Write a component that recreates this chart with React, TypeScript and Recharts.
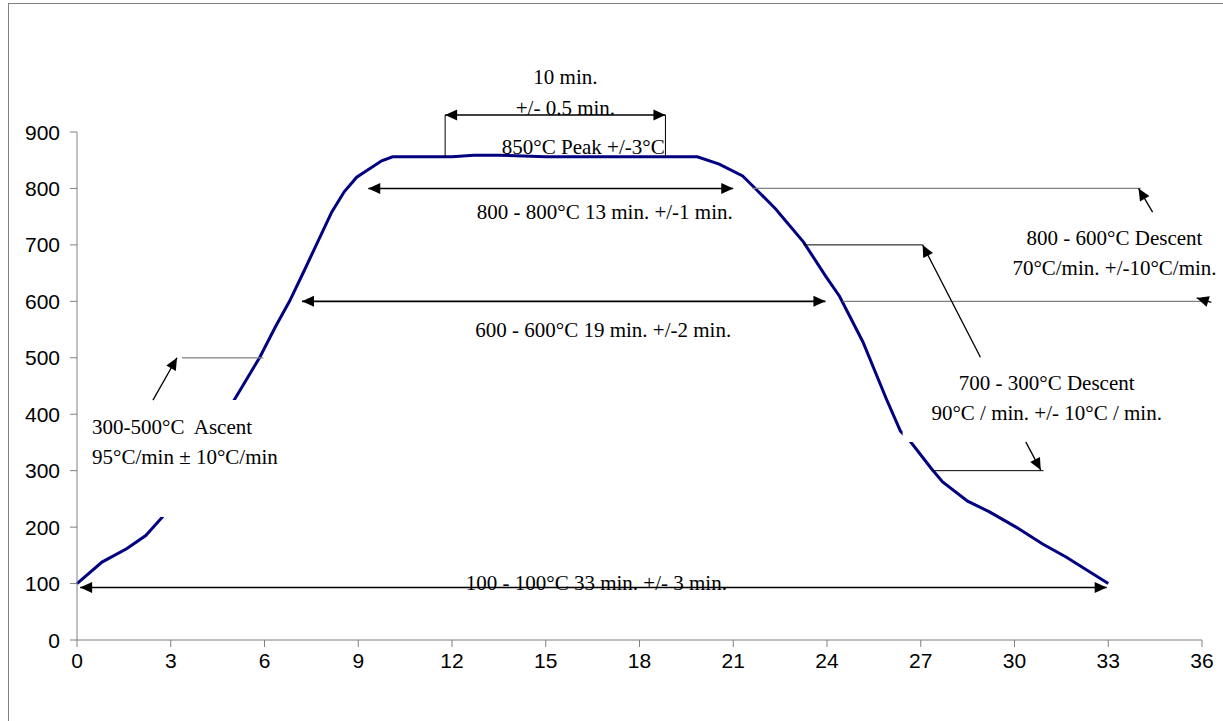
import React from 'react';
import { LineChart, Line, XAxis, YAxis, ReferenceLine, ReferenceDot, ReferenceArea } from 'recharts';

// ---- profile data (minutes, °C) ----
const times = [0, 0.8, 1.6, 2.2, 2.8, 3.5, 4.2, 5.05, 5.85, 6.35, 6.8, 7.25, 8.15, 8.55, 8.95, 9.75, 10.1, 11, 12, 12.7, 13.5, 15, 19.85, 20.55, 21.3, 21.65, 22.35, 23.25, 23.95, 24.4, 25.15, 25.9, 26.35, 26.65, 27.35, 27.7, 28.5, 29.2, 30.05, 30.9, 31.65, 33];
const temps = [100, 138, 162, 185, 222, 285, 350, 427, 501, 555, 600, 652, 758, 794, 820, 849, 856, 856, 856, 859, 859, 856, 856, 843, 822, 803, 764, 705, 645, 609, 528, 427, 370, 353, 303, 280, 246, 227, 200, 170, 147, 100];

const xTicks = [0, 3, 6, 9, 12, 15, 18, 21, 24, 27, 30, 33, 36];
const yTicks = [0, 100, 200, 300, 400, 500, 600, 700, 800, 900];

// ---- annotation geometry (data coordinates: minutes, °C) ----
// double-headed dimension arrows: [tStart, tEnd, temp]
const spanArrows = [
  [11.78, 18.83, 930],
  [9.32, 21.0, 800],
  [7.2, 23.95, 600],
  [0.1, 32.95, 93],
];
// vertical limit lines of the 10 min. window: [t, tempTop, tempBottom]
const peakLimits = [
  [11.78, 930, 855],
  [18.83, 930, 855],
];
// horizontal leader lines: [tStart, tEnd, temp]
const grayLeaders = [
  [3.36, 5.96, 500],
  [21.61, 34.04, 800],
  [24.5, 36.12, 600],
];
const blackLeaders = [
  [23.25, 27.06, 700],
  [27.38, 30.93, 300],
];
// pointer arrows: [tFrom, tempFrom, tTip, tempTip]
const pointers = [
  [2.43, 425, 3.2, 500],
  [34.42, 758, 33.97, 800],
  [36.3, 598, 35.83, 606],
  [28.91, 501, 27.06, 700],
  [30.36, 351, 30.84, 301],
];
// white text-box masks: [t1, t2, temp1, temp2]
const masks = [
  [0.35, 6.66, 218, 425],
  [26.42, 35.64, 351, 501],
];
// text labels
const labelTexts = [
  '10 min.',
  '+/- 0.5 min.',
  '850°C Peak +/-3°C',
  '800 - 800°C 13 min. +/-1 min.',
  '600 - 600°C 19 min. +/-2 min.',
  '100 - 100°C 33 min. +/- 3 min.',
  '300-500°C  Ascent',
  '95°C/min ± 10°C/min',
  '800 - 600°C Descent',
  '70°C/min. +/-10°C/min.',
  '700 - 300°C Descent',
  '90°C / min. +/- 10°C / min.',
];
const labelTimes = [15.63, 15.63, 16.2, 16.89, 16.84, 16.62, 0.48, 0.48, 33.2, 33.2, 31.03, 31.03];
const labelTemps = [998, 942, 873, 759, 549, 101, 377, 324, 713, 659, 455, 402];
const labelAnchors = ['middle', 'middle', 'middle', 'middle', 'middle', 'middle', 'start', 'start', 'middle', 'middle', 'middle', 'middle'];

const data = times.map((t, i) => ({ t, temp: temps[i] }));

const SERIF = '"Liberation Serif", "Times New Roman", serif';
const SANS = '"Liberation Sans", Arial, sans-serif';

function head(x1: number, y1: number, x2: number, y2: number, fill: string, len = 12, half = 5.5) {
  const dx = x2 - x1;
  const dy = y2 - y1;
  const d = Math.hypot(dx, dy) || 1;
  const ux = dx / d;
  const uy = dy / d;
  const bx = x2 - ux * len;
  const by = y2 - uy * len;
  const px = -uy * half;
  const py = ux * half;
  return <polygon points={`${x2},${y2} ${bx + px},${by + py} ${bx - px},${by - py}`} fill={fill} />;
}

function makeArrow(startHead: boolean, endHead: boolean, stroke: string, width: number) {
  return (props: any) => {
    const { x1, y1, x2, y2 } = props;
    if ([x1, y1, x2, y2].some((v) => typeof v !== 'number' || isNaN(v))) return <g />;
    return (
      <g>
        <line x1={x1} y1={y1} x2={x2} y2={y2} stroke={stroke} strokeWidth={width} />
        {startHead && head(x2, y2, x1, y1, stroke)}
        {endHead && head(x1, y1, x2, y2, stroke)}
      </g>
    );
  };
}

function makeText(text: string, anchor: string) {
  return (props: any) => {
    const { cx, cy } = props;
    if (typeof cx !== 'number' || typeof cy !== 'number') return <g />;
    return (
      <text
        x={cx}
        y={cy}
        dy="0.34em"
        textAnchor={anchor as any}
        fontFamily={SERIF}
        fontSize={21}
        fill="#000"
        style={{ whiteSpace: 'pre' }}
      >
        {text}
      </text>
    );
  };
}

const XTick = (p: any) => (
  <text x={p.x} y={p.y} dy="0.71em" textAnchor="middle" fontFamily={SANS} fontSize={21} fill="#000">
    {p.payload?.value}
  </text>
);
const YTick = (p: any) => (
  <text x={p.x} y={p.y} dy="0.36em" textAnchor="end" fontFamily={SANS} fontSize={21} fill="#000">
    {p.payload?.value}
  </text>
);

const doubleArrow = makeArrow(true, true, '#000', 1.6);
const pointerArrow = makeArrow(false, true, '#000', 1.3);
const grayLine = makeArrow(false, false, '#808080', 1.3);
const blackLine = makeArrow(false, false, '#000', 1);

export default function App() {
  return (
    <div style={{ position: 'fixed', left: 0, top: 0, width: 1223, height: 721, overflow: 'hidden', background: '#fff' }}>
      <div
        style={{
          position: 'absolute',
          left: 8,
          top: 3,
          width: 1300,
          height: 800,
          border: '1px solid #808080',
          boxSizing: 'border-box',
        }}
      />
      <div style={{ position: 'absolute', left: 0, top: 0 }}>
        <LineChart width={1223} height={721} data={data} margin={{ top: 132, right: 21, bottom: 51, left: 0 }}>
          <XAxis
            dataKey="t"
            type="number"
            domain={[0, 36]}
            ticks={xTicks}
            interval={0}
            tickSize={7}
            tickMargin={6}
            height={30}
            stroke="#808080"
            tick={XTick}
            axisLine={{ stroke: '#808080' }}
            tickLine={{ stroke: '#808080' }}
          />
          <YAxis
            type="number"
            domain={[0, 900]}
            ticks={yTicks}
            interval={0}
            width={77}
            tickSize={7}
            tickMargin={10}
            stroke="#808080"
            tick={YTick}
            axisLine={{ stroke: '#808080' }}
            tickLine={{ stroke: '#808080' }}
          />
          <Line
            dataKey="temp"
            type="linear"
            stroke="#000080"
            strokeWidth={3}
            dot={false}
            activeDot={false}
            isAnimationActive={false}
          />
          {masks.map((m, i) => (
            <ReferenceArea
              key={`mask-${i}`}
              x1={m[0]}
              x2={m[1]}
              y1={m[2]}
              y2={m[3]}
              fill="#ffffff"
              fillOpacity={1}
              stroke="none"
              ifOverflow="visible"
              {...({ zIndex: 450 } as any)}
            />
          ))}
          {grayLeaders.map((s, i) => (
            <ReferenceLine
              key={`gl-${i}`}
              segment={[{ x: s[0], y: s[2] }, { x: s[1], y: s[2] }]}
              ifOverflow="visible"
              shape={grayLine}
              {...({ zIndex: 460 } as any)}
            />
          ))}
          {blackLeaders.map((s, i) => (
            <ReferenceLine
              key={`bl-${i}`}
              segment={[{ x: s[0], y: s[2] }, { x: s[1], y: s[2] }]}
              ifOverflow="visible"
              shape={blackLine}
              {...({ zIndex: 460 } as any)}
            />
          ))}
          {peakLimits.map((s, i) => (
            <ReferenceLine
              key={`pl-${i}`}
              segment={[{ x: s[0], y: s[1] }, { x: s[0], y: s[2] }]}
              ifOverflow="visible"
              shape={blackLine}
              {...({ zIndex: 460 } as any)}
            />
          ))}
          {spanArrows.map((s, i) => (
            <ReferenceLine
              key={`sa-${i}`}
              segment={[{ x: s[0], y: s[2] }, { x: s[1], y: s[2] }]}
              ifOverflow="visible"
              shape={doubleArrow}
              {...({ zIndex: 470 } as any)}
            />
          ))}
          {pointers.map((p, i) => (
            <ReferenceLine
              key={`pa-${i}`}
              segment={[{ x: p[0], y: p[1] }, { x: p[2], y: p[3] }]}
              ifOverflow="visible"
              shape={pointerArrow}
              {...({ zIndex: 470 } as any)}
            />
          ))}
          {labelTexts.map((txt, i) => (
            <ReferenceDot
              key={`lbl-${i}`}
              x={labelTimes[i]}
              y={labelTemps[i]}
              r={0}
              ifOverflow="visible"
              shape={makeText(txt, labelAnchors[i])}
              {...({ zIndex: 480 } as any)}
            />
          ))}
        </LineChart>
      </div>
    </div>
  );
}
